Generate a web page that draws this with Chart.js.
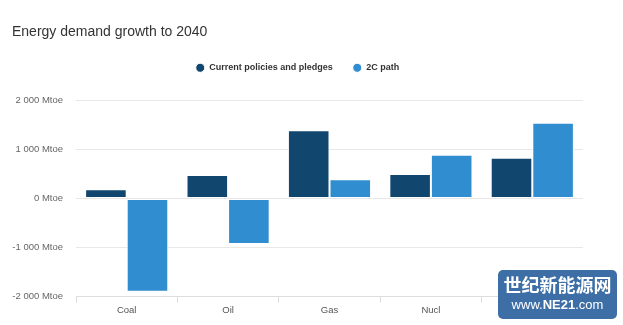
<!DOCTYPE html>
<html>
<head>
<meta charset="utf-8">
<script src="https://cdn.jsdelivr.net/npm/chart.js@4"></script>
<style>
  body { margin: 0; background: #fff; }
  #wrap { position: relative; width: 623px; height: 325px; }
  #badge {
    position: absolute; left: 498px; top: 270px; width: 119px; height: 49px;
    background: #3d6fa6; border-radius: 5px; color: #fff; text-align: center;
    font-family: "Noto Sans CJK SC", sans-serif;
  }
  #badge .cn { font-size: 18px; font-weight: bold; line-height: 24px; margin-top: 2px; }
  #badge .en { font-family: "Liberation Sans", Arial, sans-serif; font-size: 13px; line-height: 18px; }
</style>
</head>
<body>
<div id="wrap">
  <canvas id="grafico" width="623" height="325"></canvas>
  <div id="badge"><div class="cn">世纪新能源网</div><div class="en">www.<b>NE21</b>.com</div></div>
</div>
<script>
// dados
const categorias = ['Coal', 'Oil', 'Gas', 'Nucl', 'Renewables'];
const politicasAtuais = [190, 480, 1390, 500, 830];
const caminho2C = [-1900, -930, 390, 890, 1540];
const ticksY = [-2000, -1000, 0, 1000, 2000];

function formatar(v) {
  const s = Math.abs(v).toString().replace(/\B(?=(\d{3})+(?!\d))/g, ' ');
  return (v < 0 ? '-' : '') + s + ' Mtoe';
}

// espaço extra abaixo da legenda
const espacoLegenda = {
  id: 'espacoLegenda',
  beforeInit(chart) {
    const fitOriginal = chart.legend.fit;
    chart.legend.fit = function () {
      fitOriginal.call(this);
      this.height += 18;
    };
  }
};

const ctx = document.getElementById('grafico');
new Chart(ctx, {
  type: 'bar',
  data: {
    labels: categorias,
    datasets: [
      {
        label: 'Current policies and pledges',
        data: politicasAtuais,
        backgroundColor: '#11466f',
        borderColor: '#ffffff',
        borderWidth: 1,
        borderSkipped: false
      },
      {
        label: '2C path',
        data: caminho2C,
        backgroundColor: '#2f8dd0',
        borderColor: '#ffffff',
        borderWidth: 1,
        borderSkipped: false
      }
    ]
  },
  plugins: [espacoLegenda],
  options: {
    responsive: false,
    animation: false,
    layout: { padding: { left: 12, right: 40, top: 0, bottom: 7 } },
    plugins: {
      title: {
        display: true,
        text: 'Energy demand growth to 2040',
        align: 'start',
        color: '#333',
        font: { family: 'Liberation Sans, Arial', size: 14, weight: 'normal' },
        padding: { top: 24, bottom: 2.5 }
      },
      legend: {
        position: 'top',
        labels: {
          usePointStyle: true,
          pointStyle: 'circle',
          boxWidth: 9,
          boxHeight: 6.4,
          pointStyleWidth: 9,
          padding: 20,
          color: '#333',
          font: { family: 'Liberation Sans, Arial', size: 9, weight: 'bold' }
        }
      },
      tooltip: { enabled: false }
    },
    datasets: { bar: { categoryPercentage: 0.82, barPercentage: 1.0 } },
    scales: {
      x: {
        grid: { display: true, drawOnChartArea: false, drawTicks: true, tickLength: 6, color: '#dddddd', offset: true },
        border: { display: true, color: '#dddddd' },
        ticks: { color: '#555', font: { family: 'Liberation Sans', size: 9.5 }, padding: 2 }
      },
      y: {
        min: -2000,
        max: 2000,
        afterBuildTicks: (axis) => { axis.ticks = ticksY.map(v => ({ value: v })); },
        afterFit: (axis) => { axis.width = 64; },
        grid: { color: '#e8e8e8', drawTicks: false },
        border: { display: false },
        ticks: {
          color: '#666',
          padding: 13,
          font: { family: 'Liberation Sans', size: 9.5 },
          callback: (v) => formatar(v)
        }
      }
    }
  }
});
</script>
</body>
</html>
